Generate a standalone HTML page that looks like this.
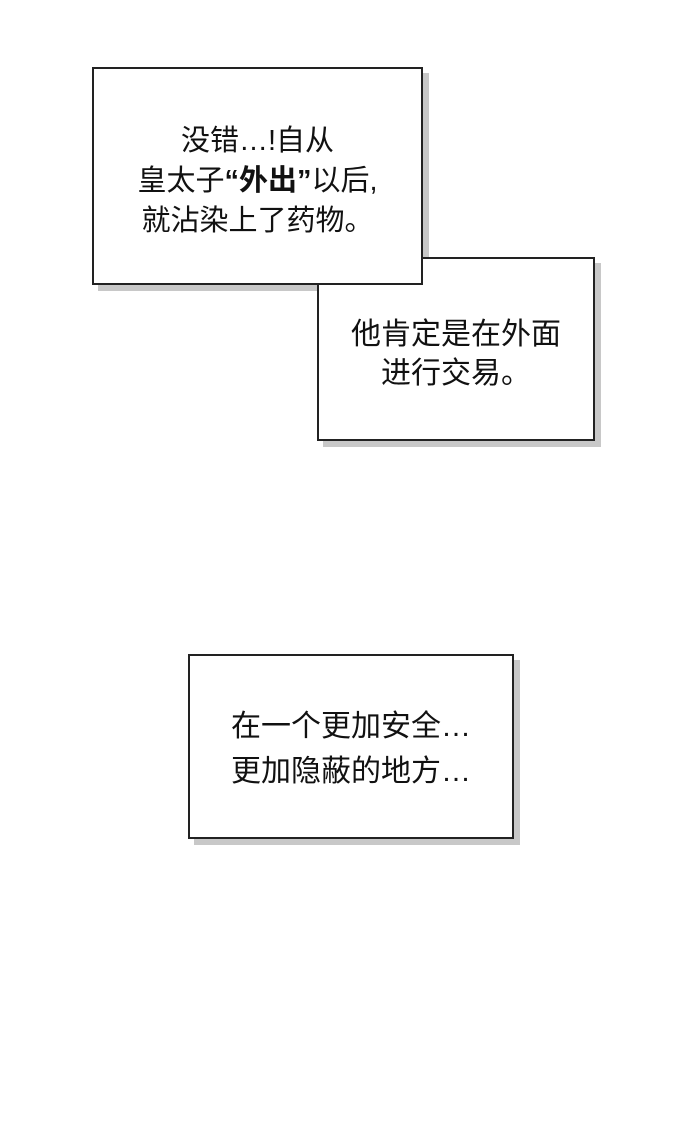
<!DOCTYPE html>
<html><head><meta charset="utf-8"><style>
body{margin:0;width:690px;height:1126px;background:#fff;position:relative;overflow:hidden;font-family:"Liberation Sans","Noto Sans CJK SC",sans-serif;color:#111}
.b{position:absolute;background:#fff;border:2px solid #222;box-sizing:border-box;text-align:center;font-size:29px}
.s{box-shadow:6px 6px 0 #c8c8c8}
.t{position:absolute;left:-20px;right:-20px;text-align:center;white-space:nowrap}
</style></head><body>
<div style="position:absolute;left:98px;top:73px;width:331px;height:218px;background:#c8c8c8"></div>
<div class="b s" style="left:317px;top:257px;width:278px;height:184px">
<div class="t" style="top:56px;line-height:39px;font-size:30px">他肯定是在外面<br>进行交易。</div></div>
<div class="b" style="left:92px;top:67px;width:331px;height:218px">
<div class="t" style="top:52px;line-height:40px">没错…!自从<br>皇太子<b>“外出”</b>以后,<br>就沾染上了药物。</div></div>
<div class="b s" style="left:188px;top:654px;width:326px;height:185px">
<div class="t" style="top:48px;line-height:45px;font-size:30px">在一个更加安全…<br>更加隐蔽的地方…</div></div>
</body></html>
